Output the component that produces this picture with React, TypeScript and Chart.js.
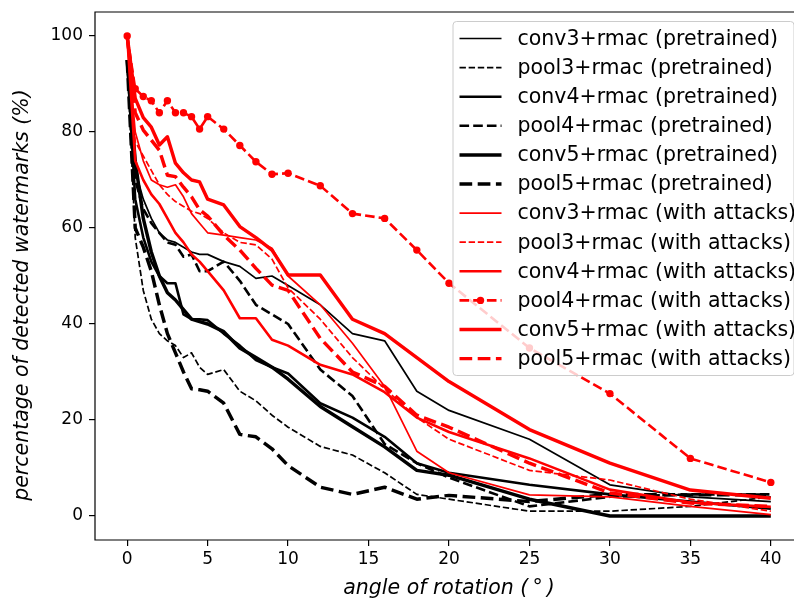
import React, { useEffect, useRef } from "react";
import { Chart, registerables } from "chart.js";

Chart.register(...registerables);

const angles = [0, 0.5, 1, 1.5, 2, 2.5, 3, 3.5, 4, 4.5, 5, 6, 7, 8, 9, 10, 12, 14, 16, 18, 20, 25, 30, 35, 40];
const xTickValues = [0, 5, 10, 15, 20, 25, 30, 35, 40];
const yTickValues = [0, 20, 40, 60, 80, 100];

const conv3Pre = [95, 72, 66, 62, 59, 57.5, 57, 56, 55, 54.5, 54.5, 53, 52, 49.5, 50, 48, 44, 38, 36.5, 26, 22, 16, 6.5, 4, 3];
const pool3Pre = [95, 58, 47, 41, 38, 36.5, 35.5, 33, 34, 31, 29.5, 30.5, 26, 24, 21, 18.5, 14.5, 12.7, 9, 4.5, 3.5, 1, 1, 2, 4];
const conv4Pre = [95, 66, 58, 53, 50, 48.5, 48.5, 42, 41, 41, 40.8, 38, 35.5, 32.5, 31, 29.7, 23.5, 20.5, 16.5, 11, 9, 6.5, 4.5, 3, 1.5];
const pool4Pre = [95, 70, 64, 61, 59, 57, 56.5, 54, 54.5, 51, 51, 53, 49, 44, 42, 40, 30.5, 25, 15, 11, 8, 2, 4, 4.5, 4.5];
const conv5Pre = [95, 74, 62, 55, 50, 46.5, 45, 43, 41, 40.5, 40, 38.4, 35, 33, 31, 28.5, 22.8, 18.6, 14.4, 9.5, 8.5, 3.5, 0, 0, 0];
const pool5Pre = [95, 60, 56, 51, 44, 38, 34, 30, 26.5, 26.3, 26, 23.5, 17, 16.5, 14, 10.5, 6, 4.5, 6, 3.5, 4.3, 3, 4.5, 4.4, 4.4];

const conv3Att = [100, 80, 74, 70, 69, 68.5, 69, 66.5, 63, 61, 59, 58.5, 58, 57.5, 55.8, 50, 44, 36, 27, 13.5, 9, 4.4, 4, 2, 0.3];
const pool3Att = [100, 78, 75, 72, 69, 67, 65.5, 64.5, 63.5, 63, 62, 59, 57, 56.5, 53.5, 47.5, 41, 33, 26.5, 20.5, 16, 9.5, 7.5, 3.5, 1];
const conv4Att = [100, 74, 70, 67, 65, 62, 59, 57, 54.5, 53, 51, 47, 41.2, 41.2, 36.7, 35.5, 31.5, 29.5, 25.8, 20.5, 17.5, 12, 5.5, 2.8, 1.9];
const pool4Att = [100, 89, 87.4, 86.5, 84, 86.5, 84, 84, 83.2, 80.6, 83.2, 80.6, 77.2, 73.8, 71.2, 71.4, 68.8, 63, 62, 55.4, 48.5, 35, 25.5, 12, 7];
const conv5Att = [100, 87, 83, 81, 77.3, 79, 73.5, 71.5, 70, 69.6, 66, 64.8, 60.3, 58, 55.4, 50.2, 50.2, 41, 38, 33, 28, 18, 11, 5.4, 3.7];
const pool5Att = [100, 84, 80.4, 78.3, 76.2, 71, 70.7, 68.5, 66.5, 63.8, 62.5, 58.5, 55.4, 51.6, 48.1, 47, 37, 30, 27, 21, 18.5, 11, 4.8, 2.7, 2];

const seriesLabels = [
  "conv3+rmac (pretrained)",
  "pool3+rmac (pretrained)",
  "conv4+rmac (pretrained)",
  "pool4+rmac (pretrained)",
  "conv5+rmac (pretrained)",
  "pool5+rmac (pretrained)",
  "conv3+rmac (with attacks)",
  "pool3+rmac (with attacks)",
  "conv4+rmac (with attacks)",
  "pool4+rmac (with attacks)",
  "conv5+rmac (with attacks)",
  "pool5+rmac (with attacks)",
];
const seriesValues = [conv3Pre, pool3Pre, conv4Pre, pool4Pre, conv5Pre, pool5Pre, conv3Att, pool3Att, conv4Att, pool4Att, conv5Att, pool5Att];

const xTitle = "angle of rotation (\u2009\u00b0\u2009)";
const yTitle = "percentage of detected watermarks (%)";

const THIN = 1.7, MED = 2.6, THICK = 3.45;
const styles = [
  { color: "#000000", width: THIN, dash: [] as number[] },
  { color: "#000000", width: THIN, dash: [6.4, 2.75] },
  { color: "#000000", width: MED, dash: [] as number[] },
  { color: "#000000", width: MED, dash: [9.6, 4.1] },
  { color: "#000000", width: THICK, dash: [] as number[] },
  { color: "#000000", width: THICK, dash: [12.7, 5.5] },
  { color: "#ff0000", width: THIN, dash: [] as number[] },
  { color: "#ff0000", width: THIN, dash: [6.4, 2.75] },
  { color: "#ff0000", width: MED, dash: [] as number[] },
  { color: "#ff0000", width: MED, dash: [9.6, 4.1], marker: true },
  { color: "#ff0000", width: THICK, dash: [] as number[] },
  { color: "#ff0000", width: THICK, dash: [12.7, 5.5] },
];

const FONT = "DejaVu Sans";
const LABEL_SIZE = 20.5;
const TICK_SIZE = 17;

const mplPlugin = {
  id: "mplDecor",
  afterDatasetsDraw(chart: any) {
    const { ctx, chartArea } = chart;
    ctx.save();
    // spines: left, bottom, top
    ctx.strokeStyle = "#000";
    ctx.lineWidth = 1.2;
    ctx.setLineDash([]);
    ctx.lineCap = "square";
    ctx.beginPath();
    ctx.moveTo(chartArea.left, chartArea.bottom);
    ctx.lineTo(chartArea.left, chartArea.top);
    ctx.lineTo(chartArea.right, chartArea.top);
    ctx.moveTo(chartArea.left, chartArea.bottom);
    ctx.lineTo(chartArea.right, chartArea.bottom);
    ctx.stroke();

    // y axis title
    ctx.save();
    ctx.translate(23, (chartArea.top + chartArea.bottom) / 2 + 19);
    ctx.rotate(-Math.PI / 2);
    ctx.font = `italic ${LABEL_SIZE}px "${FONT}"`;
    ctx.fillStyle = "#000";
    ctx.textAlign = "center";
    ctx.textBaseline = "middle";
    ctx.fillText(yTitle, 0, 0);
    ctx.restore();

    // legend
    const right = chartArea.right - 9;
    const top = chartArea.top + 9.5;
    const left = right - 341;
    const bottom = top + 354;
    const r = 3.5;
    ctx.lineCap = "butt";
    ctx.beginPath();
    ctx.moveTo(left + r, top);
    ctx.lineTo(right - r, top);
    ctx.arcTo(right, top, right, top + r, r);
    ctx.lineTo(right, bottom - r);
    ctx.arcTo(right, bottom, right - r, bottom, r);
    ctx.lineTo(left + r, bottom);
    ctx.arcTo(left, bottom, left, bottom - r, r);
    ctx.lineTo(left, top + r);
    ctx.arcTo(left, top, left + r, top, r);
    ctx.closePath();
    ctx.fillStyle = "rgba(255,255,255,0.8)";
    ctx.fill();
    ctx.strokeStyle = "#cccccc";
    ctx.lineWidth = 1;
    ctx.stroke();

    ctx.font = `${LABEL_SIZE}px "${FONT}"`;
    ctx.textBaseline = "middle";
    ctx.textAlign = "left";
    chart.data.datasets.forEach((ds: any, i: number) => {
      const y = top + 17 + i * 29.1;
      const x0 = left + 6.5;
      const x1 = left + 48.5;
      ctx.strokeStyle = ds.borderColor;
      ctx.lineWidth = ds.borderWidth;
      ctx.setLineDash(ds.borderDash || []);
      ctx.beginPath();
      ctx.moveTo(x0, y);
      ctx.lineTo(x1, y);
      ctx.stroke();
      if (ds.pointRadius > 0) {
        ctx.setLineDash([]);
        ctx.fillStyle = ds.borderColor;
        ctx.beginPath();
        ctx.arc((x0 + x1) / 2, y, ds.pointRadius, 0, Math.PI * 2);
        ctx.fill();
      }
      ctx.setLineDash([]);
      ctx.fillStyle = "#000";
      ctx.fillText(ds.label, left + 64.5, y + 1);
    });
    ctx.restore();
  },
};

export default function App() {
  const ref = useRef<HTMLCanvasElement>(null);
  useEffect(() => {
    const canvas = ref.current!;
    Chart.defaults.font.family = FONT;
    const n = seriesValues.length;
    const datasets = seriesValues.map((vals, i) => {
      const st: any = styles[i];
      return {
        label: seriesLabels[i],
        data: angles.map((a, j) => ({ x: a, y: vals[j] })),
        borderColor: st.color,
        backgroundColor: st.color,
        borderWidth: st.width,
        borderDash: st.dash,
        borderCapStyle: "butt",
        borderJoinStyle: "round",
        pointRadius: st.marker ? 3.7 : 0,
        pointHoverRadius: st.marker ? 3.7 : 0,
        pointBackgroundColor: st.color,
        pointBorderWidth: 0,
        tension: 0,
        fill: false,
        order: n - i,
      };
    });
    const chart = new Chart(canvas, {
      type: "line",
      data: { datasets } as any,
      options: {
        animation: false,
        responsive: false,
        devicePixelRatio: 1,
        events: [],
        layout: { padding: { top: 12, right: 9, left: 0, bottom: 0 } },
        plugins: { legend: { display: false }, tooltip: { enabled: false } },
        scales: {
          x: {
            type: "linear",
            min: -2,
            max: 42,
            afterBuildTicks: (s: any) => {
              s.ticks = xTickValues.map((v) => ({ value: v }));
            },
            afterFit: (s: any) => {
              s.height = 61;
              s.paddingLeft = 0;
              s.paddingRight = 0;
            },
            grid: { display: true, drawOnChartArea: false, drawTicks: true, tickLength: 6, color: "#000", lineWidth: 1.2 },
            border: { display: false },
            ticks: { color: "#000", font: { size: TICK_SIZE, family: FONT }, padding: 3, maxRotation: 0, autoSkip: false },
            title: {
              display: true,
              text: xTitle,
              color: "#000",
              font: { size: LABEL_SIZE, style: "italic", family: FONT },
              padding: { top: 0, bottom: 0 },
            },
          },
          y: {
            type: "linear",
            min: -5,
            max: 105,
            afterBuildTicks: (s: any) => {
              s.ticks = yTickValues.map((v) => ({ value: v }));
            },
            afterFit: (s: any) => {
              s.width = 95;
              s.paddingTop = 0;
              s.paddingBottom = 0;
            },
            grid: { display: true, drawOnChartArea: false, drawTicks: true, tickLength: 6, color: "#000", lineWidth: 1.2 },
            border: { display: false },
            ticks: { color: "#000", font: { size: TICK_SIZE, family: FONT }, padding: 6 },
            title: { display: false },
          },
        },
      } as any,
      plugins: [mplPlugin],
    });
    return () => chart.destroy();
  }, []);
  return (
    <div
      style={{
        position: "fixed",
        left: 0,
        top: 0,
        width: 794,
        height: 601,
        overflow: "hidden",
        background: "#fff",
      }}
    >
      <canvas ref={ref} width={812} height={601} style={{ width: 812, height: 601, display: "block" }} />
    </div>
  );
}
